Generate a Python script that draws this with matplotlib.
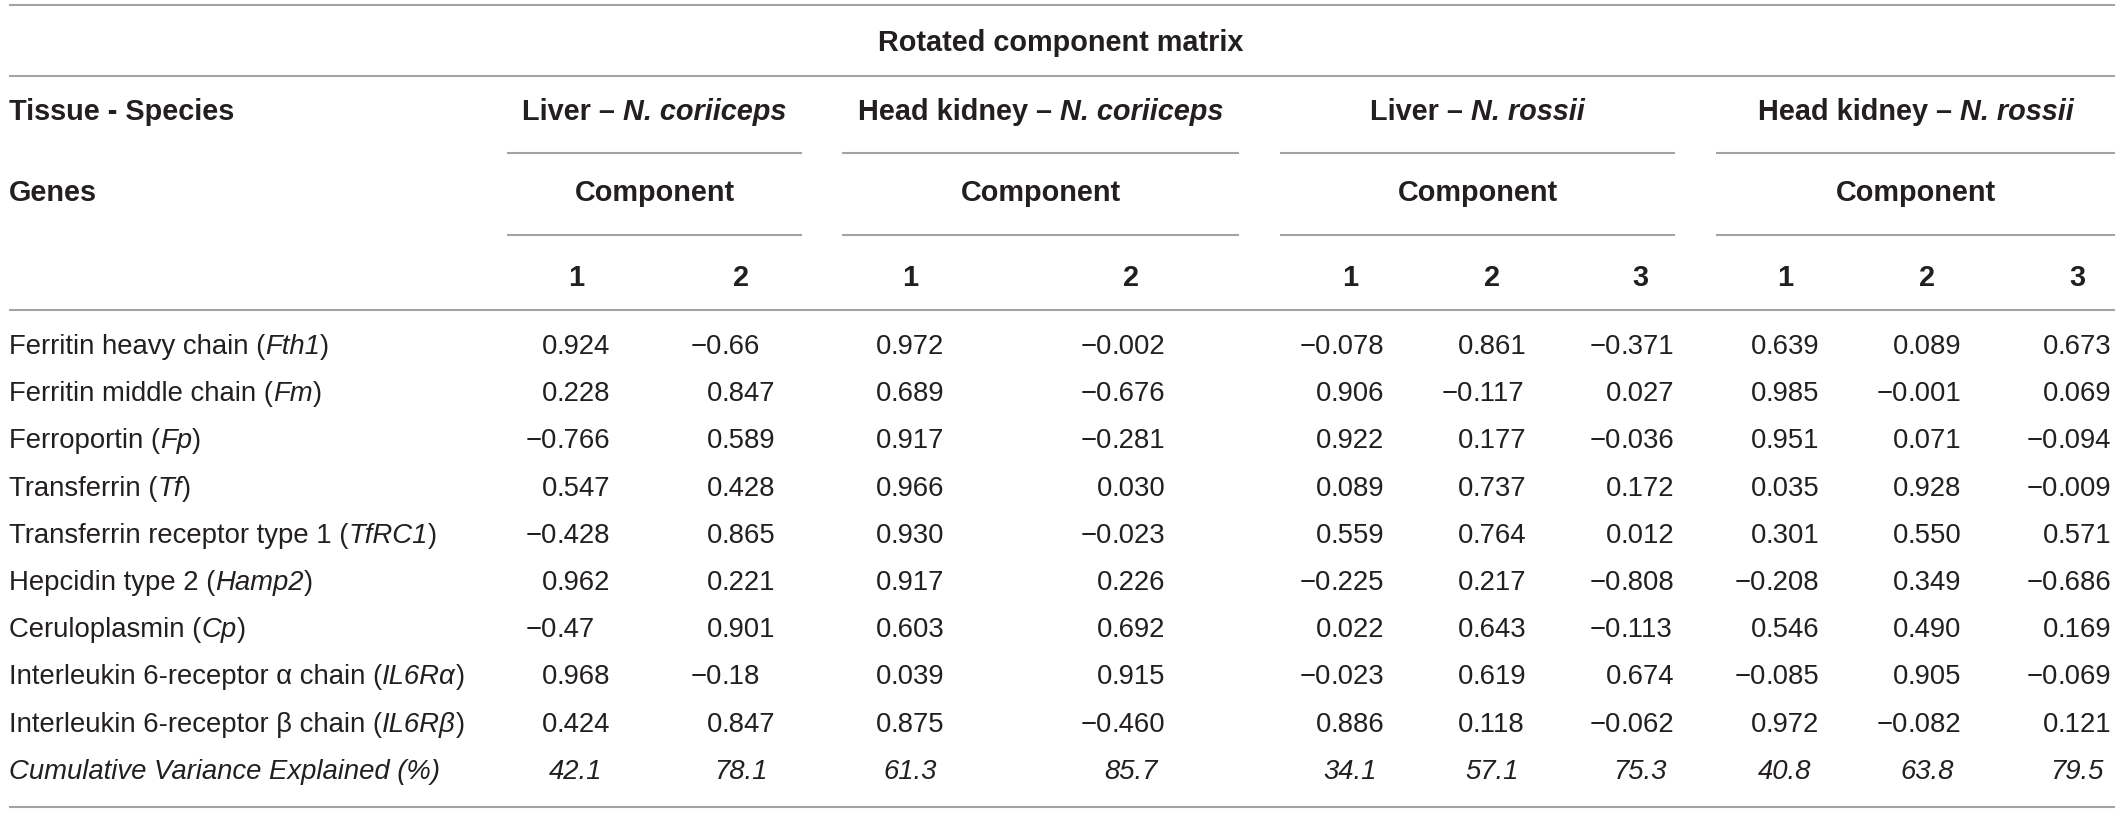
import matplotlib
matplotlib.use("Agg")
import matplotlib.pyplot as plt

# ---------------- data ----------------
title = "Rotated component matrix"
row_header_1 = "Tissue - Species"
row_header_2 = "Genes"
tissues = ["Liver", "Head kidney", "Liver", "Head kidney"]
species = ["N. coriiceps", "N. coriiceps", "N. rossii", "N. rossii"]
n_components = [2, 2, 3, 3]
component_label = "Component"

gene_names = [
    "Ferritin heavy chain",
    "Ferritin middle chain",
    "Ferroportin",
    "Transferrin",
    "Transferrin receptor type 1",
    "Hepcidin type 2",
    "Ceruloplasmin",
    "Interleukin 6-receptor \u03b1 chain",
    "Interleukin 6-receptor \u03b2 chain",
]
gene_symbols = ["Fth1", "Fm", "Fp", "Tf", "TfRC1", "Hamp2", "Cp", "IL6R\u03b1", "IL6R\u03b2"]

# loadings, one list per column (group/component), rows follow gene order
liver_cor_1 = ["0.924", "0.228", "-0.766", "0.547", "-0.428", "0.962", "-0.47", "0.968", "0.424"]
liver_cor_2 = ["-0.66", "0.847", "0.589", "0.428", "0.865", "0.221", "0.901", "-0.18", "0.847"]
hk_cor_1 = ["0.972", "0.689", "0.917", "0.966", "0.930", "0.917", "0.603", "0.039", "0.875"]
hk_cor_2 = ["-0.002", "-0.676", "-0.281", "0.030", "-0.023", "0.226", "0.692", "0.915", "-0.460"]
liver_ros_1 = ["-0.078", "0.906", "0.922", "0.089", "0.559", "-0.225", "0.022", "-0.023", "0.886"]
liver_ros_2 = ["0.861", "-0.117", "0.177", "0.737", "0.764", "0.217", "0.643", "0.619", "0.118"]
liver_ros_3 = ["-0.371", "0.027", "-0.036", "0.172", "0.012", "-0.808", "-0.113", "0.674", "-0.062"]
hk_ros_1 = ["0.639", "0.985", "0.951", "0.035", "0.301", "-0.208", "0.546", "-0.085", "0.972"]
hk_ros_2 = ["0.089", "-0.001", "0.071", "0.928", "0.550", "0.349", "0.490", "0.905", "-0.082"]
hk_ros_3 = ["0.673", "0.069", "-0.094", "-0.009", "0.571", "-0.686", "0.169", "-0.069", "0.121"]
columns = [liver_cor_1, liver_cor_2, hk_cor_1, hk_cor_2,
           liver_ros_1, liver_ros_2, liver_ros_3, hk_ros_1, hk_ros_2, hk_ros_3]

cum_label = "Cumulative Variance Explained (%)"
cum_variance = ["42.1", "78.1", "61.3", "85.7", "34.1", "57.1", "75.3", "40.8", "63.8", "79.5"]

# ---------------- layout (pixels) ----------------
W, H = 2121, 814
FONT = "Liberation Sans"
TXT = "#231f20"
LINE = "#a3a3a3"
BODY = 19.8
HEAD = 20.8

col_centers = [576, 741, 910, 1131, 1350, 1492, 1640, 1785, 1927, 2077]
group_spans = [(507, 802), (842, 1239), (1280, 1675), (1716, 2115)]
x_left, x_right = 9, 2115
y_top, y_title, y_line1 = 5, 43, 76
y_tissue, y_uline1, y_comp, y_uline2, y_num, y_line2 = 112, 153, 193, 235, 278, 310
y_row0, row_step = 347, 47.2
y_bottom = 807

fig = plt.figure(figsize=(W / 100, H / 100), dpi=100)
ax = fig.add_axes([0, 0, 1, 1])
ax.set_xlim(0, W)
ax.set_ylim(H, 0)
ax.axis("off")
renderer = fig.canvas.get_renderer()


def measure(s, **kw):
    t = ax.text(0, 0, s, fontfamily=FONT, **kw)
    w = t.get_window_extent(renderer).width
    t.remove()
    return w


def draw_runs(x, y, runs, ha="left", size=BODY, weight="normal", color=TXT):
    """runs: list of (text, italic)"""
    items = []
    for s, it in runs:
        kw = dict(fontsize=size, fontweight=weight, fontstyle="italic" if it else "normal")
        sp = measure("a a", **kw) - measure("aa", **kw)
        lead = len(s) - len(s.lstrip(" "))
        trail = len(s) - len(s.rstrip(" "))
        core = s.strip(" ")
        w = measure(core, **kw) if core else 0
        items.append((lead * sp, core, w, trail * sp, kw))
    total = sum(a + w + b for a, _, w, b, _ in items)
    if ha == "center":
        cx = x - total / 2
    elif ha == "right":
        cx = x - total
    else:
        cx = x
    for a, core, w, b, kw in items:
        cx += a
        if core:
            ax.text(cx, y, core, ha="left", va="center", fontfamily=FONT, color=color, **kw)
        cx += w + b


def hline(y, x0, x1):
    ax.plot([x0, x1], [y, y], color=LINE, lw=1.5, solid_capstyle="butt")


# lines
hline(y_top, x_left, x_right)
hline(y_line1, x_left, x_right)
hline(y_line2, x_left, x_right)
hline(y_bottom, x_left, x_right)
for (g0, g1) in group_spans:
    hline(y_uline1, g0, g1)
    hline(y_uline2, g0, g1)

# header
draw_runs(W / 2, y_title, [(title, False)], ha="center", size=HEAD, weight="bold")
draw_runs(x_left, y_tissue, [(row_header_1, False)], size=HEAD, weight="bold")
draw_runs(x_left, y_comp, [(row_header_2, False)], size=HEAD, weight="bold")

ci = 0
for gi, (tis, spc, n) in enumerate(zip(tissues, species, n_components)):
    g0, g1 = group_spans[gi]
    gc = (g0 + g1) / 2
    draw_runs(gc, y_tissue, [(tis + " \u2013 ", False), (spc, True)], ha="center",
              size=HEAD, weight="bold")
    draw_runs(gc, y_comp, [(component_label, False)], ha="center", size=HEAD, weight="bold")
    for k in range(n):
        draw_runs(col_centers[ci], y_num, [(str(k + 1), False)], ha="center",
                  size=HEAD, weight="bold")
        ci += 1

# body rows
w_ref = measure("0.000", fontsize=BODY)
w_frac = measure(".000", fontsize=BODY)
for r, (name, sym) in enumerate(zip(gene_names, gene_symbols)):
    y = y_row0 + r * row_step
    draw_runs(x_left, y, [(name + " (", False), (sym, True), (")", False)])
    for c, col in enumerate(columns):
        s = col[r].replace("-", "\u2212")
        ip, fp = s.split(".")
        xdec = col_centers[c] + w_ref / 2 - w_frac
        ax.text(xdec, y, ip, ha="right", va="center", fontfamily=FONT,
                fontsize=BODY, color=TXT)
        ax.text(xdec, y, "." + fp, ha="left", va="center", fontfamily=FONT,
                fontsize=BODY, color=TXT)

y = y_row0 + len(gene_names) * row_step
draw_runs(x_left, y, [(cum_label, True)])
for c, v in enumerate(cum_variance):
    draw_runs(col_centers[c], y, [(v, True)], ha="center")

fig.savefig("out.png", dpi=100)
